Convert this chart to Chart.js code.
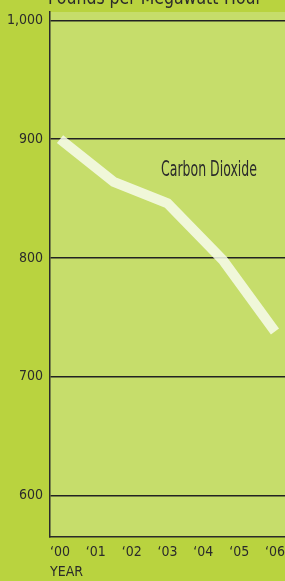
<!DOCTYPE html>
<html>
<head>
<meta charset="utf-8">
<script src="https://cdn.jsdelivr.net/npm/chart.js@4"></script>
<style>
  html, body { margin: 0; padding: 0; background: #b9d33f; }
  #wrap { width: 285px; height: 581px; position: relative; }
</style>
</head>
<body>
<div id="wrap"><canvas id="chart"></canvas></div>
<script>
const years = [0, 1.5, 3, 4.55, 6];
const co2 = [900, 864, 846, 798, 738];
const yearTicks = [0, 1, 2, 3, 4, 5, 6];
const yearLabels = ["\u201800", "\u201801", "\u201802", "\u201803", "\u201804", "\u201805", "\u201806"];
const valueTicks = [600, 700, 800, 900, 1000];
const seriesName = "Carbon Dioxide";
const unitTitle = "Pounds per Megawatt-Hour";

const FONT = "'Liberation Sans Narrow', 'DejaVu Sans Condensed', 'Liberation Sans', sans-serif";

// light plot panel behind the chart area
const panelPlugin = {
  id: "panel",
  beforeDraw: (chart) => {
    const { ctx, chartArea: a } = chart;
    ctx.save();
    ctx.fillStyle = "#c6dd6b";
    ctx.fillRect(a.left, a.top, a.right - a.left, a.bottom - a.top);
    ctx.restore();
  },
};

// squeezed text for the title and the series label
const drawSqueezed = (ctx, text, cx, y, size, targetW) => {
  ctx.save();
  ctx.font = `${size}px ${FONT}`;
  const w = ctx.measureText(text).width;
  ctx.translate(cx, y);
  ctx.scale(targetW / w, 1);
  ctx.fillStyle = "#2b2b2b";
  ctx.textAlign = "center";
  ctx.textBaseline = "alphabetic";
  ctx.fillText(text, 0, 0);
  ctx.restore();
};

const labelPlugin = {
  id: "labels",
  afterDraw: (chart) => {
    const { ctx } = chart;
    drawSqueezed(ctx, unitTitle, 155, 4, 19, 214);
    drawSqueezed(ctx, seriesName, 209, 176, 22, 96);
  },
};

new Chart(document.getElementById("chart"), {
  type: "line",
  data: {
    datasets: [
      {
        label: seriesName,
        data: years.map((x, i) => ({ x: x, y: co2[i] })),
        borderColor: "rgba(247, 251, 236, 0.85)",
        borderWidth: 10,
        borderCapStyle: "butt",
        borderJoinStyle: "miter",
        pointRadius: 0,
        tension: 0,
        fill: false,
      },
    ],
  },
  options: {
    responsive: true,
    maintainAspectRatio: false,
    animation: false,
    layout: { padding: { top: 12, right: 0, left: 0, bottom: 0 } },
    plugins: {
      legend: { display: false },
      tooltip: { enabled: false },
    },
    scales: {
      x: {
        type: "linear",
        min: -0.28,
        max: 6.28,
        afterBuildTicks: (scale) => {
          scale.ticks = yearTicks.map((v) => ({ value: v }));
        },
        afterFit: (scale) => {
          scale.height = 44;
          scale.paddingLeft = 0;
          scale.paddingRight = 0;
        },
        ticks: {
          callback: (v) => yearLabels[yearTicks.indexOf(v)],
          color: "#2b2b2b",
          font: { family: FONT, size: 14 },
          padding: 7,
          maxRotation: 0,
          autoSkip: false,
        },
        grid: { display: false, drawTicks: false },
        border: { display: true, color: "#2a2a2a", width: 1.5 },
        title: {
          display: true,
          text: "YEAR",
          align: "start",
          color: "#2b2b2b",
          font: { family: FONT, size: 14 },
          padding: { top: 2, bottom: 0 },
        },
      },
      y: {
        min: 565,
        max: 1007,
        afterBuildTicks: (scale) => {
          scale.ticks = valueTicks.map((v) => ({ value: v }));
        },
        afterFit: (scale) => {
          scale.width = 50;
          scale.paddingTop = 0;
          scale.paddingBottom = 0;
        },
        ticks: {
          callback: (v) => v.toLocaleString("en-US"),
          color: "#2b2b2b",
          font: { family: FONT, size: 14 },
          padding: 7,
        },
        grid: { color: "#222222", lineWidth: 1.6, drawTicks: false },
        border: { display: true, color: "#2a2a2a", width: 1.5 },
      },
    },
  },
  plugins: [panelPlugin, labelPlugin],
});
</script>
</body>
</html>
